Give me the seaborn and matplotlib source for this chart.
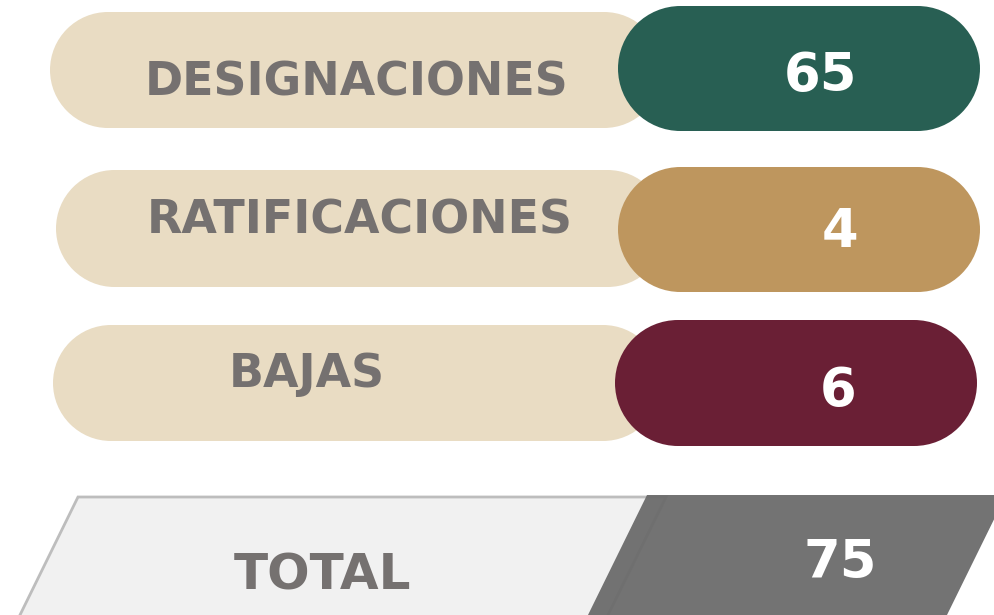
import matplotlib
matplotlib.use("Agg")
import matplotlib.pyplot as plt
import seaborn as sns
from matplotlib.patches import Rectangle, Circle, Polygon

# ── Data ───────────────────────────────────────────────────────────────────────
categories = ['DESIGNACIONES', 'RATIFICACIONES', 'BAJAS']
values = [65, 4, 6]
total_label = 'TOTAL'
total_value = 75

# ── Style ──────────────────────────────────────────────────────────────────────
sns.set_theme(style='white')
plt.rcParams['font.family'] = ['DejaVu Sans']

pill_colors = sns.color_palette(['#285f53', '#be965e', '#6a1f35'])
label_bg = '#e9dcc3'
text_gray = '#757170'

# layout per row (pixel units): label pill, value pill, text anchors
label_pills = [(50, 12, 612, 116), (56, 170, 610, 117), (53, 325, 608, 116)]
value_pills = [(618, 6, 362, 125), (618, 167, 362, 125), (615, 320, 362, 126)]
label_text = [(357, 96), (360, 234), (307, 387)]
value_text = [(820, 91), (840, 247), (838, 406)]


def draw_pill(ax, box, color, z):
    """Stadium shape: a rectangle with two half-circle ends."""
    x, y, w, h = box
    r = h / 2
    ax.add_patch(Rectangle((x + r, y), w - 2 * r, h, facecolor=color,
                           edgecolor='none', zorder=z))
    for cx in (x + r, x + w - r):
        ax.add_patch(Circle((cx, y + r), r, facecolor=color,
                            edgecolor='none', zorder=z))


fig = plt.figure(figsize=(9.94, 6.15), dpi=100)
ax = fig.add_axes([0, 0, 1, 1])
ax.set_xlim(0, 994)
ax.set_ylim(615, 0)
ax.axis('off')

for i, (cat, val) in enumerate(zip(categories, values)):
    draw_pill(ax, label_pills[i], label_bg, 1)
    draw_pill(ax, value_pills[i], pill_colors[i], 2)
    tx, ty = label_text[i]
    ax.text(tx, ty, cat, ha='center', va='baseline', fontsize=33,
            fontweight='bold', color=text_gray, zorder=3)
    vx, vy = value_text[i]
    ax.text(vx, vy, str(val), ha='center', va='baseline', fontsize=38,
            fontweight='bold', color='white', zorder=3)

# total band
ax.add_patch(Polygon([(78, 497), (666, 497), (607, 617), (19, 617)], closed=True,
                     facecolor='#f1f1f1', edgecolor='#bdbdbd', linewidth=2, zorder=1))
ax.add_patch(Polygon([(647, 495), (1006, 495), (946, 617), (587, 617)], closed=True,
                     facecolor='#6b6b6b', edgecolor='none', alpha=0.95, zorder=2))
ax.text(322, 590, total_label, ha='center', va='baseline', fontsize=36,
        fontweight='bold', color=text_gray, zorder=3)
ax.text(840, 578, str(total_value), ha='center', va='baseline', fontsize=38,
        fontweight='bold', color='white', zorder=3)

fig.savefig('out.png', dpi=100, facecolor='white')
